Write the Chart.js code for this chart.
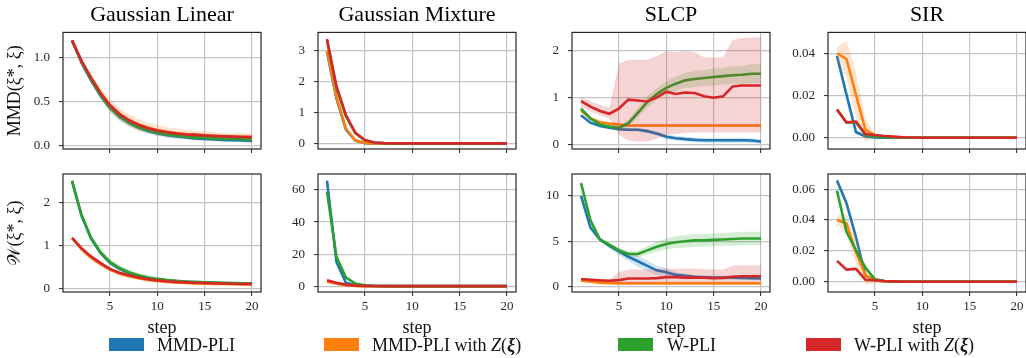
<!DOCTYPE html>
<html>
<head>
<meta charset="utf-8">
<script src="https://cdn.jsdelivr.net/npm/chart.js@4.4.1/dist/chart.umd.min.js"></script>
<style>
  body { margin: 0; background: #fff; }
  #fig { position: relative; width: 1026px; height: 358px; overflow: hidden; font-family: 'Liberation Serif', serif; color: #111; }
  #fig canvas { position: absolute; }
  .key { position: absolute; top: 338px; width: 35px; height: 13px; z-index: 2; }
  .keytext { position: absolute; top: 334px; font-size: 18px; line-height: 22px; white-space: nowrap; z-index: 2; }
</style>
</head>
<body>
<div id="fig">
  <canvas id="gl-mmd"></canvas>
  <canvas id="gm-mmd"></canvas>
  <canvas id="slcp-mmd"></canvas>
  <canvas id="sir-mmd"></canvas>
  <canvas id="gl-w"></canvas>
  <canvas id="gm-w"></canvas>
  <canvas id="slcp-w"></canvas>
  <canvas id="sir-w"></canvas>

  <div class="key" style="left:109px;background:#1f77b4"></div>
  <div class="keytext" style="left:157px">MMD-PLI</div>
  <div class="key" style="left:324px;background:#ff7f0e"></div>
  <div class="keytext" style="left:372px">MMD-PLI with <i>Z</i>(<b><i>ξ</i></b>)</div>
  <div class="key" style="left:618px;background:#2ca02c"></div>
  <div class="keytext" style="left:667px">W-PLI</div>
  <div class="key" style="left:806px;background:#d62728"></div>
  <div class="keytext" style="left:854px">W-PLI with <i>Z</i>(<b><i>ξ</i></b>)</div>
</div>
<script>
// Steps on the x axis
const steps = [1, 2, 3, 4, 5, 6, 7, 8, 9, 10, 11, 12, 13, 14, 15, 16, 17, 18, 19, 20];
const xTicks = [5, 10, 15, 20];

// Gaussian Linear - MMD
const glMmdBlue = [1.19, 0.94, 0.74, 0.57, 0.43, 0.33, 0.26, 0.205, 0.17, 0.142, 0.122, 0.107, 0.095, 0.086, 0.079, 0.073, 0.068, 0.064, 0.061, 0.058];
const glMmdBlueSd = [0.01, 0.02, 0.03, 0.04, 0.045, 0.045, 0.04, 0.035, 0.03, 0.03, 0.025, 0.025, 0.02, 0.02, 0.02, 0.02, 0.02, 0.02, 0.02, 0.02];
const glMmdOrange = [1.19, 0.96, 0.77, 0.6, 0.46, 0.36, 0.29, 0.24, 0.205, 0.18, 0.16, 0.145, 0.135, 0.128, 0.12, 0.115, 0.11, 0.107, 0.104, 0.1];
const glMmdOrangeSd = [0.01, 0.03, 0.05, 0.06, 0.07, 0.07, 0.07, 0.065, 0.06, 0.06, 0.055, 0.05, 0.05, 0.045, 0.045, 0.04, 0.04, 0.04, 0.04, 0.04];
const glMmdGreen = [1.19, 0.95, 0.75, 0.58, 0.44, 0.34, 0.27, 0.22, 0.18, 0.155, 0.135, 0.12, 0.11, 0.1, 0.094, 0.088, 0.083, 0.079, 0.076, 0.073];
const glMmdGreenSd = [0.01, 0.02, 0.03, 0.04, 0.04, 0.04, 0.035, 0.03, 0.03, 0.025, 0.025, 0.02, 0.02, 0.02, 0.02, 0.02, 0.02, 0.02, 0.02, 0.02];
const glMmdRed = [1.19, 0.96, 0.77, 0.6, 0.46, 0.36, 0.29, 0.24, 0.2, 0.175, 0.155, 0.14, 0.13, 0.125, 0.118, 0.112, 0.108, 0.105, 0.102, 0.1];
const glMmdRedSd = [0.01, 0.015, 0.02, 0.025, 0.03, 0.03, 0.03, 0.025, 0.025, 0.02, 0.02, 0.02, 0.02, 0.02, 0.02, 0.02, 0.02, 0.02, 0.02, 0.02];

// Gaussian Mixture - MMD
const gmMmdBlue = [2.95, 1.45, 0.45, 0.1, 0.02, 0.01, 0.01, 0.01, 0.01, 0.01, 0.01, 0.01, 0.01, 0.01, 0.01, 0.01, 0.01, 0.01, 0.01, 0.01];
const gmMmdBlueSd = [0.05, 0.05, 0.04, 0.02, 0.01, 0, 0, 0, 0, 0, 0, 0, 0, 0, 0, 0, 0, 0, 0, 0];
const gmMmdOrange = [3.0, 1.5, 0.49, 0.1, 0.02, 0.01, 0.01, 0.01, 0.01, 0.01, 0.01, 0.01, 0.01, 0.01, 0.01, 0.01, 0.01, 0.01, 0.01, 0.01];
const gmMmdOrangeSd = [0.05, 0.05, 0.04, 0.02, 0.01, 0, 0, 0, 0, 0, 0, 0, 0, 0, 0, 0, 0, 0, 0, 0];
const gmMmdGreen = [3.33, 1.8, 0.88, 0.33, 0.11, 0.04, 0.02, 0.01, 0.01, 0.01, 0.01, 0.01, 0.01, 0.01, 0.01, 0.01, 0.01, 0.01, 0.01, 0.01];
const gmMmdGreenSd = [0.05, 0.05, 0.04, 0.02, 0.01, 0, 0, 0, 0, 0, 0, 0, 0, 0, 0, 0, 0, 0, 0, 0];
const gmMmdRed = [3.37, 1.85, 0.92, 0.35, 0.12, 0.04, 0.02, 0.01, 0.01, 0.01, 0.01, 0.01, 0.01, 0.01, 0.01, 0.01, 0.01, 0.01, 0.01, 0.01];
const gmMmdRedSd = [0.05, 0.05, 0.04, 0.02, 0.01, 0, 0, 0, 0, 0, 0, 0, 0, 0, 0, 0, 0, 0, 0, 0];

// SLCP - MMD
const slcpMmdBlue = [0.62, 0.46, 0.39, 0.35, 0.32, 0.31, 0.31, 0.28, 0.23, 0.16, 0.13, 0.11, 0.095, 0.085, 0.085, 0.085, 0.085, 0.085, 0.08, 0.06];
const slcpMmdBlueSd = [0.03, 0.03, 0.03, 0.03, 0.03, 0.04, 0.04, 0.04, 0.05, 0.05, 0.05, 0.05, 0.05, 0.05, 0.05, 0.05, 0.05, 0.05, 0.05, 0.05];
const slcpMmdOrange = [0.72, 0.55, 0.47, 0.44, 0.42, 0.4, 0.4, 0.4, 0.4, 0.4, 0.4, 0.4, 0.4, 0.4, 0.4, 0.4, 0.4, 0.4, 0.4, 0.4];
const slcpMmdOrangeSd = [0.03, 0.03, 0.03, 0.03, 0.03, 0.03, 0.03, 0.03, 0.03, 0.03, 0.03, 0.03, 0.03, 0.03, 0.03, 0.03, 0.03, 0.03, 0.03, 0.03];
const slcpMmdGreen = [0.76, 0.55, 0.42, 0.38, 0.35, 0.45, 0.67, 0.9, 1.07, 1.2, 1.29, 1.36, 1.39, 1.41, 1.43, 1.45, 1.47, 1.48, 1.5, 1.5];
const slcpMmdGreenSd = [0.03, 0.03, 0.03, 0.03, 0.04, 0.07, 0.1, 0.12, 0.13, 0.14, 0.15, 0.16, 0.17, 0.17, 0.18, 0.18, 0.19, 0.19, 0.2, 0.2];
const slcpMmdRed = [0.92, 0.8, 0.71, 0.65, 0.76, 0.95, 0.93, 0.91, 1.0, 1.12, 1.07, 1.1, 1.09, 1.02, 0.99, 1.02, 1.23, 1.25, 1.25, 1.25];
const slcpMmdRedLo = [0.8, 0.7, 0.62, 0.55, 0.2, 0.08, 0.06, 0.06, 0.12, 0.2, 0.22, 0.24, 0.25, 0.25, 0.25, 0.25, 0.25, 0.25, 0.25, 0.25];
const slcpMmdRedHi = [1.0, 0.92, 0.84, 0.78, 1.72, 1.8, 1.8, 1.8, 1.88, 1.98, 1.96, 1.98, 1.96, 1.85, 1.85, 1.85, 2.22, 2.26, 2.27, 2.28];

// SIR - MMD
const sirMmdBlue = [0.039, 0.0206, 0.0027, 0.0006, 0.0001, 0, 0, 0, 0, 0, 0, 0, 0, 0, 0, 0, 0, 0, 0, 0];
const sirMmdBlueSd = [0.001, 0.0015, 0.001, 0.0003, 0, 0, 0, 0, 0, 0, 0, 0, 0, 0, 0, 0, 0, 0, 0, 0];
const sirMmdOrange = [0.0403, 0.0376, 0.0206, 0.0038, 0.0011, 0.0005, 0.0002, 0, 0, 0, 0, 0, 0, 0, 0, 0, 0, 0, 0, 0];
const sirMmdOrangeSd = [0.003, 0.009, 0.011, 0.0055, 0.001, 0.0003, 0, 0, 0, 0, 0, 0, 0, 0, 0, 0, 0, 0, 0, 0];
const sirMmdGreen = [0.0135, 0.0073, 0.0073, 0.0014, 0.0006, 0.0003, 0.0001, 0, 0, 0, 0, 0, 0, 0, 0, 0, 0, 0, 0, 0];
const sirMmdGreenSd = [0.0005, 0.0005, 0.0005, 0.0003, 0.0001, 0, 0, 0, 0, 0, 0, 0, 0, 0, 0, 0, 0, 0, 0, 0];
const sirMmdRed = [0.0134, 0.0073, 0.0077, 0.0018, 0.0013, 0.0008, 0.0005, 0.0002, 0.0001, 0, 0, 0, 0, 0, 0, 0, 0, 0, 0, 0];
const sirMmdRedSd = [0.0005, 0.0005, 0.0005, 0.0003, 0.0001, 0, 0, 0, 0, 0, 0, 0, 0, 0, 0, 0, 0, 0, 0, 0];

// Gaussian Linear - Wasserstein
const glWBlue = [2.51, 1.7, 1.17, 0.83, 0.6, 0.46, 0.36, 0.3, 0.25, 0.215, 0.19, 0.17, 0.157, 0.147, 0.138, 0.131, 0.125, 0.12, 0.116, 0.112];
const glWBlueSd = [0.02, 0.04, 0.05, 0.05, 0.05, 0.045, 0.04, 0.035, 0.03, 0.03, 0.025, 0.02, 0.02, 0.02, 0.02, 0.02, 0.02, 0.02, 0.02, 0.02];
const glWOrange = [1.18, 0.92, 0.72, 0.57, 0.44, 0.35, 0.29, 0.24, 0.2, 0.175, 0.155, 0.14, 0.13, 0.122, 0.115, 0.11, 0.105, 0.1, 0.097, 0.095];
const glWOrangeSd = [0.01, 0.03, 0.04, 0.045, 0.045, 0.045, 0.04, 0.035, 0.03, 0.03, 0.03, 0.025, 0.025, 0.025, 0.025, 0.025, 0.025, 0.025, 0.025, 0.025];
const glWGreen = [2.51, 1.72, 1.19, 0.85, 0.62, 0.48, 0.38, 0.31, 0.26, 0.225, 0.2, 0.18, 0.165, 0.155, 0.145, 0.138, 0.132, 0.127, 0.122, 0.118];
const glWGreenSd = [0.02, 0.04, 0.05, 0.06, 0.06, 0.06, 0.055, 0.05, 0.045, 0.04, 0.035, 0.03, 0.03, 0.03, 0.03, 0.03, 0.03, 0.03, 0.03, 0.03];
const glWRed = [1.18, 0.94, 0.75, 0.6, 0.46, 0.37, 0.31, 0.26, 0.22, 0.19, 0.17, 0.155, 0.145, 0.137, 0.13, 0.124, 0.118, 0.113, 0.108, 0.105];
const glWRedSd = [0.01, 0.02, 0.02, 0.02, 0.02, 0.02, 0.02, 0.02, 0.02, 0.02, 0.02, 0.02, 0.02, 0.02, 0.02, 0.02, 0.02, 0.02, 0.02, 0.02];

// Gaussian Mixture - Wasserstein
const gmWBlue = [65.8, 15.2, 2.1, 0.6, 0.2, 0.1, 0.05, 0.05, 0.05, 0.05, 0.05, 0.05, 0.05, 0.05, 0.05, 0.05, 0.05, 0.05, 0.05, 0.05];
const gmWBlueSd = [1.5, 1.5, 0.6, 0.2, 0.1, 0, 0, 0, 0, 0, 0, 0, 0, 0, 0, 0, 0, 0, 0, 0];
const gmWOrange = [2.9, 1.5, 0.6, 0.2, 0.05, 0.02, 0.02, 0.02, 0.02, 0.02, 0.02, 0.02, 0.02, 0.02, 0.02, 0.02, 0.02, 0.02, 0.02, 0.02];
const gmWOrangeSd = [0.2, 0.15, 0.1, 0.05, 0, 0, 0, 0, 0, 0, 0, 0, 0, 0, 0, 0, 0, 0, 0, 0];
const gmWGreen = [59.0, 18.3, 5.4, 1.7, 0.6, 0.2, 0.1, 0.05, 0.05, 0.05, 0.05, 0.05, 0.05, 0.05, 0.05, 0.05, 0.05, 0.05, 0.05, 0.05];
const gmWGreenSd = [1.5, 1.5, 0.8, 0.3, 0.1, 0, 0, 0, 0, 0, 0, 0, 0, 0, 0, 0, 0, 0, 0, 0];
const gmWRed = [3.75, 2.1, 1.0, 0.4, 0.2, 0.1, 0.05, 0.05, 0.05, 0.05, 0.05, 0.05, 0.05, 0.05, 0.05, 0.05, 0.05, 0.05, 0.05, 0.05];
const gmWRedSd = [0.2, 0.15, 0.1, 0.05, 0, 0, 0, 0, 0, 0, 0, 0, 0, 0, 0, 0, 0, 0, 0, 0];

// SLCP - Wasserstein
const slcpWBlue = [10.0, 6.5, 5.2, 4.5, 3.9, 3.3, 2.8, 2.3, 1.8, 1.6, 1.3, 1.2, 1.1, 1.05, 1.0, 1.0, 1.0, 0.97, 0.95, 0.9];
const slcpWBlueSd = [0.1, 0.2, 0.2, 0.3, 0.4, 0.5, 0.6, 0.6, 0.5, 0.4, 0.3, 0.25, 0.2, 0.2, 0.2, 0.2, 0.2, 0.2, 0.2, 0.2];
const slcpWOrange = [0.7, 0.55, 0.45, 0.4, 0.37, 0.37, 0.37, 0.37, 0.37, 0.37, 0.37, 0.37, 0.37, 0.37, 0.37, 0.37, 0.37, 0.37, 0.37, 0.37];
const slcpWOrangeSd = [0.05, 0.05, 0.05, 0.05, 0.05, 0.05, 0.05, 0.05, 0.05, 0.05, 0.05, 0.05, 0.05, 0.05, 0.05, 0.05, 0.05, 0.05, 0.05, 0.05];
const slcpWGreen = [11.4, 7.3, 5.2, 4.6, 4.0, 3.6, 3.6, 4.0, 4.4, 4.7, 4.9, 5.0, 5.1, 5.1, 5.15, 5.2, 5.25, 5.3, 5.3, 5.3];
const slcpWGreenSd = [0.3, 0.3, 0.2, 0.2, 0.25, 0.3, 0.35, 0.45, 0.55, 0.6, 0.65, 0.7, 0.7, 0.7, 0.7, 0.7, 0.75, 0.75, 0.75, 0.75];
const slcpWRed = [0.85, 0.77, 0.7, 0.66, 0.73, 0.9, 0.9, 0.9, 0.95, 1.06, 1.06, 1.0, 1.0, 0.98, 0.95, 0.97, 1.1, 1.15, 1.15, 1.15];
const slcpWRedLo = [0.7, 0.65, 0.6, 0.55, 0.45, 0.4, 0.4, 0.4, 0.45, 0.5, 0.5, 0.5, 0.5, 0.5, 0.5, 0.5, 0.5, 0.5, 0.5, 0.5];
const slcpWRedHi = [1.0, 0.9, 0.85, 0.8, 1.6, 1.9, 1.9, 1.9, 1.95, 2.0, 2.0, 2.0, 2.0, 1.95, 1.9, 1.9, 2.3, 2.35, 2.35, 2.35];

// SIR - Wasserstein
const sirWBlue = [0.0657, 0.0509, 0.029, 0.0039, 0.0009, 0.0003, 0, 0, 0, 0, 0, 0, 0, 0, 0, 0, 0, 0, 0, 0];
const sirWBlueSd = [0.001, 0.002, 0.002, 0.001, 0.0003, 0, 0, 0, 0, 0, 0, 0, 0, 0, 0, 0, 0, 0, 0, 0];
const sirWOrange = [0.04, 0.0378, 0.0193, 0.0041, 0.0009, 0.0002, 0, 0, 0, 0, 0, 0, 0, 0, 0, 0, 0, 0, 0, 0];
const sirWOrangeSd = [0.003, 0.006, 0.008, 0.006, 0.002, 0.0005, 0, 0, 0, 0, 0, 0, 0, 0, 0, 0, 0, 0, 0, 0];
const sirWGreen = [0.059, 0.0324, 0.0204, 0.0091, 0.0015, 0.0004, 0, 0, 0, 0, 0, 0, 0, 0, 0, 0, 0, 0, 0, 0];
const sirWGreenSd = [0.001, 0.001, 0.001, 0.001, 0.0003, 0, 0, 0, 0, 0, 0, 0, 0, 0, 0, 0, 0, 0, 0, 0];
const sirWRed = [0.0135, 0.0078, 0.0083, 0.0013, 0.0009, 0.0004, 0.0002, 0, 0, 0, 0, 0, 0, 0, 0, 0, 0, 0, 0, 0];
const sirWRedSd = [0.0005, 0.0005, 0.0005, 0.0003, 0.0001, 0, 0, 0, 0, 0, 0, 0, 0, 0, 0, 0, 0, 0, 0, 0];

// Y ticks and ranges
const glMmdTicks = [0, 0.5, 1.0];     const glMmdLabels = ['0.0', '0.5', '1.0'];     const glMmdRange = [-0.034, 1.28];
const gmMmdTicks = [0, 1, 2, 3];      const gmMmdLabels = ['0', '1', '2', '3'];      const gmMmdRange = [-0.17, 3.58];
const slcpMmdTicks = [0, 1, 2];       const slcpMmdLabels = ['0', '1', '2'];         const slcpMmdRange = [-0.1, 2.38];
const sirMmdTicks = [0, 0.02, 0.04];  const sirMmdLabels = ['0.00', '0.02', '0.04']; const sirMmdRange = [-0.0054, 0.0503];
const glWTicks = [0, 1, 2];           const glWLabels = ['0', '1', '2'];             const glWRange = [-0.08, 2.67];
const gmWTicks = [0, 20, 40, 60];     const gmWLabels = ['0', '20', '40', '60'];     const gmWRange = [-3.6, 70];
const slcpWTicks = [0, 5, 10];        const slcpWLabels = ['0', '5', '10'];          const slcpWRange = [-0.58, 12.4];
const sirWTicks = [0, 0.02, 0.04, 0.06]; const sirWLabels = ['0.00', '0.02', '0.04', '0.06']; const sirWRange = [-0.0067, 0.0699];

const LINE = { blue: '#1f77b4', orange: '#ff7f0e', green: '#2ca02c', red: '#d62728' };
const BAND = { blue: 'rgba(31,119,180,0.2)', orange: 'rgba(255,127,14,0.2)', green: 'rgba(44,160,44,0.2)', red: 'rgba(214,39,40,0.2)' };
const RANK = { blue: 3, orange: 2, green: 1, red: 0 };
const GRID = '#c4c4c4';
const INK = '#262626';

Chart.defaults.font.family = "'Liberation Serif', serif";
Chart.defaults.color = INK;

function pts(arr) {
    return steps.map((s, i) => ({ x: s, y: arr[i] }));
}

function plusMinus(mean, sd, sign) {
    return mean.map((v, i) => v + sign * sd[i]);
}

// band (lo/hi pair) + mean line for one method; matplotlib draw order blue -> red
function seriesSets(name, mean, lo, hi) {
    const r = RANK[name];
    return [
        { data: pts(lo), borderWidth: 0, pointRadius: 0, fill: false, order: 2 * r + 1 },
        { data: pts(hi), borderWidth: 0, pointRadius: 0, fill: '-1', backgroundColor: BAND[name], order: 2 * r + 1 },
        { data: pts(mean), borderColor: LINE[name], borderWidth: 2.6, pointRadius: 0, fill: false, order: 2 * r }
    ];
}

function sdSets(name, mean, sd) {
    return seriesSets(name, mean, plusMinus(mean, sd, -1), plusMinus(mean, sd, 1));
}

// full box around each plot
const spines = {
    id: 'spines',
    afterDraw(chart) {
        const { ctx, chartArea: a } = chart;
        ctx.save();
        ctx.strokeStyle = INK;
        ctx.lineWidth = 1.2;
        ctx.strokeRect(a.left, a.top, a.right - a.left, a.bottom - a.top);
        ctx.restore();
    }
};

const colLeft = [63, 318, 572, 828];
const plotW = 198;
const yAxisW = 62;

function drawPanel(id, row, col, title, ylabel, datasets, yTicks, yLabels, yRange) {
    const canvas = document.getElementById(id);
    const bottomRow = row === 1;
    // top row: plot 32..149, bottom row: plot 174..292
    const h = bottomRow ? 188 : 170;
    canvas.width = yAxisW + plotW + 4;
    canvas.height = h;
    canvas.style.left = (colLeft[col] - yAxisW) + 'px';
    canvas.style.top = (bottomRow ? 154 : 0) + 'px';

    new Chart(canvas, {
        type: 'line',
        data: { datasets: datasets },
        options: {
            responsive: false,
            animation: false,
            devicePixelRatio: 1,
            layout: { padding: { top: bottomRow ? 20 : 0, right: 4, left: 0, bottom: 0 } },
            plugins: {
                legend: { display: false },
                tooltip: { enabled: false },
                title: {
                    display: !!title, text: title, fullSize: false, color: '#000',
                    font: { size: 22, weight: 'normal' }, padding: { top: 2, bottom: 4 }
                }
            },
            scales: {
                x: {
                    type: 'linear', min: 0.05, max: 20.95,
                    afterBuildTicks: s => { s.ticks = xTicks.map(v => ({ value: v })); },
                    afterFit: s => { s.height = bottomRow ? 50 : 21; },
                    ticks: { display: bottomRow, padding: 3, font: { size: 13 }, maxRotation: 0, autoSkip: false },
                    grid: { color: GRID, lineWidth: 1.2, tickColor: INK, tickLength: 4, tickWidth: 1 },
                    border: { display: false },
                    title: { display: bottomRow, text: 'step', color: '#111', font: { size: 18 }, padding: { top: 2, bottom: 3 } }
                },
                y: {
                    min: yRange[0], max: yRange[1],
                    afterBuildTicks: s => { s.ticks = yTicks.map(v => ({ value: v })); },
                    afterFit: s => { s.width = yAxisW; },
                    ticks: { padding: 9, font: { size: 13 }, callback: (v, i) => yLabels[i] },
                    grid: { color: GRID, lineWidth: 1.2, tickColor: INK, tickLength: 4, tickWidth: 1 },
                    border: { display: false },
                    title: { display: !!ylabel, text: ylabel, color: '#111', font: { size: 18 }, padding: { top: 3, bottom: 2 } }
                }
            }
        },
        plugins: [spines]
    });
}

document.addEventListener('DOMContentLoaded', () => {
    drawPanel('gl-mmd', 0, 0, 'Gaussian Linear', 'MMD(ξ*, ξ)', [
        ...sdSets('blue', glMmdBlue, glMmdBlueSd), ...sdSets('orange', glMmdOrange, glMmdOrangeSd),
        ...sdSets('green', glMmdGreen, glMmdGreenSd), ...sdSets('red', glMmdRed, glMmdRedSd)
    ], glMmdTicks, glMmdLabels, glMmdRange);

    drawPanel('gm-mmd', 0, 1, 'Gaussian Mixture', '', [
        ...sdSets('blue', gmMmdBlue, gmMmdBlueSd), ...sdSets('orange', gmMmdOrange, gmMmdOrangeSd),
        ...sdSets('green', gmMmdGreen, gmMmdGreenSd), ...sdSets('red', gmMmdRed, gmMmdRedSd)
    ], gmMmdTicks, gmMmdLabels, gmMmdRange);

    drawPanel('slcp-mmd', 0, 2, 'SLCP', '', [
        ...sdSets('blue', slcpMmdBlue, slcpMmdBlueSd), ...sdSets('orange', slcpMmdOrange, slcpMmdOrangeSd),
        ...sdSets('green', slcpMmdGreen, slcpMmdGreenSd), ...seriesSets('red', slcpMmdRed, slcpMmdRedLo, slcpMmdRedHi)
    ], slcpMmdTicks, slcpMmdLabels, slcpMmdRange);

    drawPanel('sir-mmd', 0, 3, 'SIR', '', [
        ...sdSets('blue', sirMmdBlue, sirMmdBlueSd), ...sdSets('orange', sirMmdOrange, sirMmdOrangeSd),
        ...sdSets('green', sirMmdGreen, sirMmdGreenSd), ...sdSets('red', sirMmdRed, sirMmdRedSd)
    ], sirMmdTicks, sirMmdLabels, sirMmdRange);

    drawPanel('gl-w', 1, 0, '', '𝒲(ξ*, ξ)', [
        ...sdSets('blue', glWBlue, glWBlueSd), ...sdSets('orange', glWOrange, glWOrangeSd),
        ...sdSets('green', glWGreen, glWGreenSd), ...sdSets('red', glWRed, glWRedSd)
    ], glWTicks, glWLabels, glWRange);

    drawPanel('gm-w', 1, 1, '', '', [
        ...sdSets('blue', gmWBlue, gmWBlueSd), ...sdSets('orange', gmWOrange, gmWOrangeSd),
        ...sdSets('green', gmWGreen, gmWGreenSd), ...sdSets('red', gmWRed, gmWRedSd)
    ], gmWTicks, gmWLabels, gmWRange);

    drawPanel('slcp-w', 1, 2, '', '', [
        ...sdSets('blue', slcpWBlue, slcpWBlueSd), ...sdSets('orange', slcpWOrange, slcpWOrangeSd),
        ...sdSets('green', slcpWGreen, slcpWGreenSd), ...seriesSets('red', slcpWRed, slcpWRedLo, slcpWRedHi)
    ], slcpWTicks, slcpWLabels, slcpWRange);

    drawPanel('sir-w', 1, 3, '', '', [
        ...sdSets('blue', sirWBlue, sirWBlueSd), ...sdSets('orange', sirWOrange, sirWOrangeSd),
        ...sdSets('green', sirWGreen, sirWGreenSd), ...sdSets('red', sirWRed, sirWRedSd)
    ], sirWTicks, sirWLabels, sirWRange);
});
</script>
</body>
</html>
